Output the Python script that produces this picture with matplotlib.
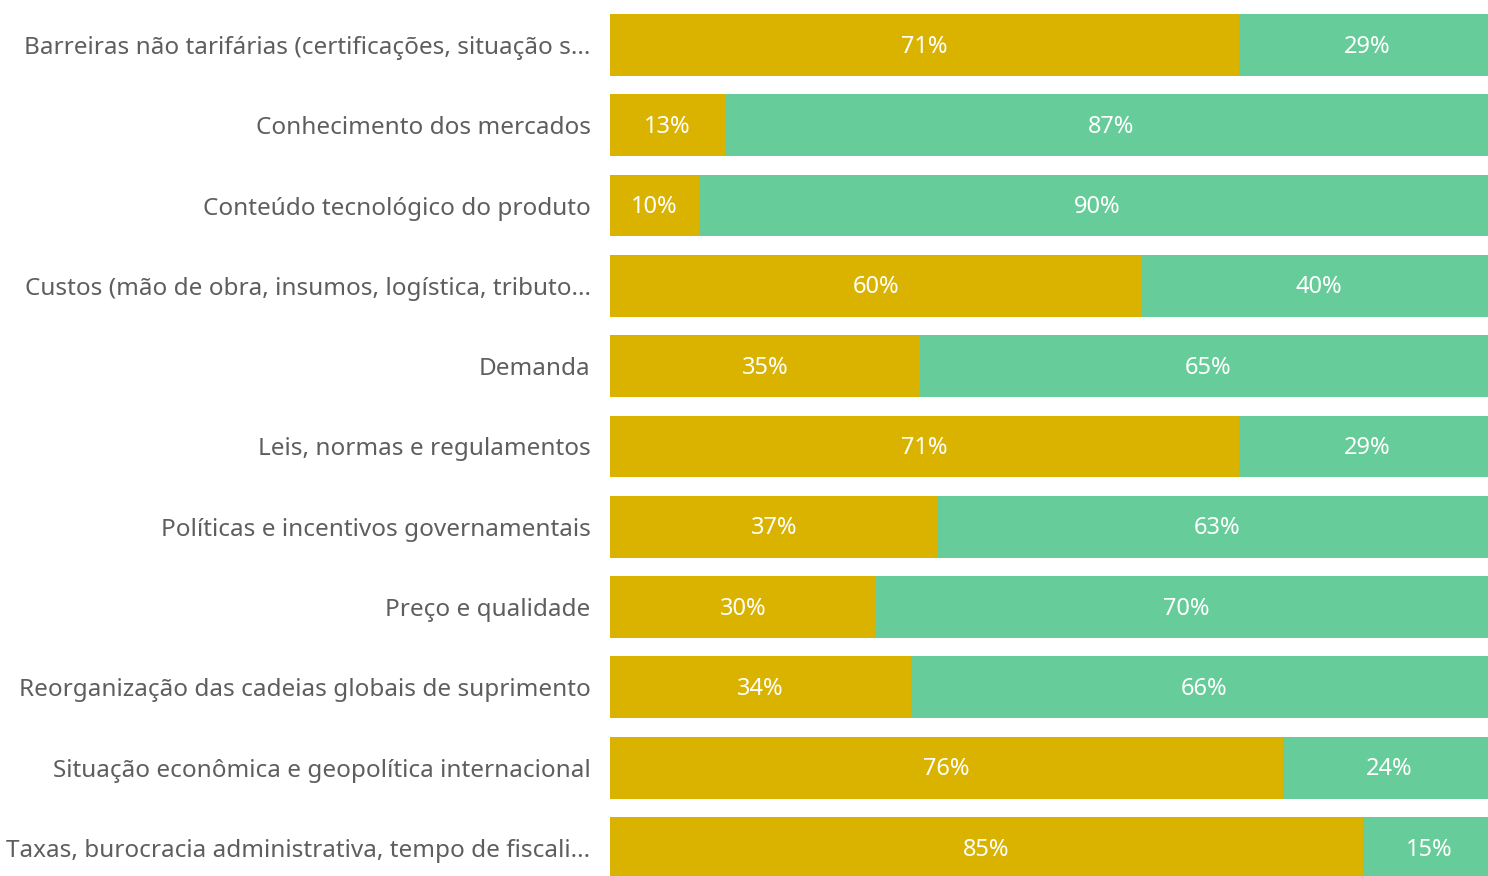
import matplotlib
matplotlib.use('Agg')
import matplotlib.pyplot as plt
import numpy as np

plt.rcParams['font.family'] = ['Noto Sans', 'DejaVu Sans']

# Categories and shares (%)
categories = [
    "Barreiras não tarifárias (certificações, situação s...",
    "Conhecimento dos mercados",
    "Conteúdo tecnológico do produto",
    "Custos (mão de obra, insumos, logística, tributo...",
    "Demanda",
    "Leis, normas e regulamentos",
    "Políticas e incentivos governamentais",
    "Preço e qualidade",
    "Reorganização das cadeias globais de suprimento",
    "Situação econômica e geopolítica internacional",
    "Taxas, burocracia administrativa, tempo de fiscali...",
]
share_a = [71, 13, 10, 60, 35, 71, 37, 30, 34, 76, 85]
share_b = [29, 87, 90, 40, 65, 29, 63, 70, 66, 24, 15]

color_a = '#D9B300'
color_b = '#66CC99'

W, H = 1488, 876
fig = plt.figure(figsize=(W / 100, H / 100), dpi=100)
ax = fig.add_axes([610 / W, 0, 886 / W, 1])

y = np.arange(len(categories))
bars_a = ax.barh(y, share_a, height=0.77, color=color_a)
bars_b = ax.barh(y, share_b, left=share_a, height=0.77, color=color_b)

for vals, lefts in [(share_a, [0] * len(share_a)), (share_b, share_a)]:
    for yi, v, l in zip(y, vals, lefts):
        ax.text(l + v / 2, yi + 0.02, f"{v}%", ha='center', va='center',
                color='white', fontsize=17)

ax.set_xlim(0, 100)
ax.set_ylim(10.35, -0.56)
ax.set_yticks(y)
ax.set_yticklabels(categories, fontsize=17.5, color='#605E5C')
ax.tick_params(axis='y', length=0, pad=14)
ax.set_xticks([])
for s in ax.spines.values():
    s.set_visible(False)

plt.savefig("out.png", dpi=100)
plt.close()
